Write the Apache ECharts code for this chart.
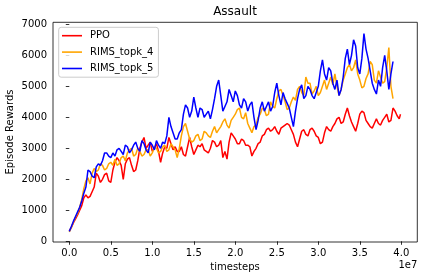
<!DOCTYPE html>
<html><head><meta charset="utf-8">
<script src="https://cdn.jsdelivr.net/npm/echarts@6/dist/echarts.min.js"></script>
<style>html,body{margin:0;padding:0;background:#fff}#c{width:424px;height:280px}</style>
</head><body><div id="c"></div>
<script>
// timesteps in units of 1e7
const timesteps = [0.000,0.025,0.050,0.075,0.100,0.125,0.150,0.175,0.200,0.225,
  0.250,0.275,0.300,0.325,0.350,0.375,0.400,0.425,0.450,0.475,
  0.500,0.525,0.550,0.575,0.600,0.625,0.650,0.675,0.700,0.725,
  0.750,0.775,0.800,0.825,0.850,0.875,0.900,0.925,0.950,0.975,
  1.000,1.025,1.050,1.075,1.100,1.125,1.150,1.175,1.200,1.225,
  1.250,1.275,1.300,1.325,1.350,1.375,1.400,1.425,1.450,1.475,
  1.500,1.525,1.550,1.575,1.600,1.625,1.650,1.675,1.700,1.725,
  1.750,1.775,1.800,1.825,1.850,1.875,1.900,1.925,1.950,1.975,
  2.000,2.025,2.050,2.075,2.100,2.125,2.150,2.175,2.200,2.225,
  2.250,2.275,2.300,2.325,2.350,2.375,2.400,2.425,2.450,2.475,
  2.500,2.525,2.550,2.575,2.600,2.625,2.650,2.675,2.700,2.725,
  2.750,2.775,2.800,2.825,2.850,2.875,2.900,2.925,2.950,2.975,
  3.000,3.025,3.050,3.075,3.100,3.125,3.150,3.175,3.200,3.225,
  3.250,3.275,3.300,3.325,3.350,3.375,3.400,3.425,3.450,3.475,
  3.500,3.525,3.550,3.575,3.600,3.625,3.650,3.675,3.700,3.725,
  3.750,3.775,3.800,3.825,3.850,3.875,3.900,3.925,3.950,3.975,
  3.990];
const ppo = [330,450,600,720,850,1000,1150,1400,1500,1400,
  1450,1600,1750,2200,2100,1900,2000,2150,2200,1950,
  1900,2300,2550,2700,2600,2450,2000,2500,2650,2700,
  2450,2250,2300,2600,3000,3200,3350,3000,3100,3200,
  2900,3000,3150,2900,2550,2850,3050,3000,3350,3150,
  2950,3050,2900,2900,3050,2800,2750,3050,3350,3050,
  2800,2950,3100,3050,3150,2950,2900,2850,3000,3250,
  3200,3050,3100,3250,2700,2900,2650,3200,3500,3400,
  3300,3150,3150,3300,3250,3100,3100,3050,2750,2900,
  3000,3150,3200,3400,3450,3600,3650,3550,3600,3700,
  3550,3450,3650,3700,3750,3800,3750,3600,3450,3200,
  3050,3300,3550,3600,3450,3400,3600,3650,3550,3400,
  3350,3150,3200,3500,3700,3600,3550,3700,3800,3950,
  4000,3800,3850,4100,4300,4050,3850,3700,3550,3800,
  4100,4200,4150,3900,3800,3700,3650,3800,3950,3800,
  3750,3900,4000,4100,3850,3900,4300,4200,4050,3950,
  4100];
const rimsTopk4 = [300,450,620,780,900,1100,1350,1700,1950,2050,
  1850,2200,2350,2250,2300,2500,2450,2300,2350,2500,
  2550,2450,2650,2450,2500,2700,2750,2600,2850,2950,
  3000,2750,2800,3000,2900,2750,2800,2950,2950,2750,
  2850,3050,3000,2850,2900,3050,3100,2900,2950,3150,
  3050,2950,2700,3000,3400,3700,3800,3550,3300,3200,
  3250,3400,3450,3250,3300,3550,3500,3400,3350,3550,
  3700,3500,3600,3700,3850,3950,3750,3650,3900,4000,
  4100,4250,4300,4000,3950,4150,3800,3650,3500,3700,
  3750,4000,4100,4300,4250,4050,4100,4500,4350,4300,
  4600,4850,4900,4700,4500,4250,4300,4500,4650,4550,
  4900,5000,4800,4700,5300,5100,5100,4750,4850,5000,
  4700,4800,5000,5200,4900,5100,5300,5050,5400,5000,
  4700,4900,5200,5400,5600,5700,5500,5600,5850,5400,
  5200,4950,5000,5250,5400,5800,5700,5200,5100,5500,
  5300,5100,5150,5600,6250,5000,4600,null,null,null,
  null];
const rimsTopk5 = [320,480,650,800,950,1100,1300,1550,1750,2300,
  2250,2100,2050,2400,2500,2450,2600,2850,2850,2750,
  2700,2850,2750,2950,3000,2900,2800,3100,3050,2850,
  2950,3100,3200,3000,2900,3250,3150,2950,2850,3200,
  3100,2950,3250,3100,3000,3200,3150,3400,4000,3700,
  3500,3300,3300,3500,3600,4100,4400,4300,4000,4200,
  4650,4300,4000,4300,4250,4000,4100,4200,3950,4250,
  4600,5000,5200,4700,4200,4350,4500,4900,4700,4500,
  4850,4700,4400,4300,4600,4500,4200,4400,4500,4000,
  3600,3900,4300,4500,4200,4350,4500,4200,4350,4800,
  5100,4700,4400,4800,4600,4450,4300,4000,3700,4200,
  4600,4900,5050,4600,4700,5000,4900,4700,4600,4800,
  5000,5500,5850,5400,5200,5600,5500,5100,4900,5200,
  4700,4900,5300,5900,6200,5700,6000,6500,6300,5600,
  5400,5900,6700,6200,5900,5500,5100,4900,4750,5200,
  5000,5600,6000,5500,4900,5400,5800,null,null,null,
  null];
const seriesNames = ['PPO','RIMS_topk_4','RIMS_topk_5'];
const seriesColors = ['#ff0000','#ffa500','#0000ff'];
const xTicks = {min:0, max:4, interval:0.5};
const yTicks = {min:0, max:7000, interval:1000};

const FONT = 'DejaVu Sans';
const pairs = arr => timesteps.map((t,i)=>[t, arr[i]]).filter(p=>p[1]!==null);
const allData = [ppo, rimsTopk4, rimsTopk5];

const chart = echarts.init(document.getElementById('c'), null, {renderer:'canvas'});
chart.setOption({
  animation:false,
  backgroundColor:'#ffffff',
  textStyle:{fontFamily:FONT},
  grid:[
    {left:53, top:22.3, width:364.3, height:219.7, show:true, borderColor:'#000', borderWidth:0.8, backgroundColor:'transparent'},
    {left:69.3, top:24.3, width:332, height:217}
  ],
  xAxis:[
    {gridIndex:0, type:'value', show:false, min:0, max:1},
    {gridIndex:1, type:'value', min:xTicks.min, max:xTicks.max, interval:xTicks.interval, offset:0.7,
     axisLine:{show:false}, splitLine:{show:false},
     axisTick:{show:true, inside:false, length:3.5, lineStyle:{color:'#000', width:0.8}},
     axisLabel:{fontSize:10, color:'#000', fontFamily:FONT, margin:6, formatter:v=>v.toFixed(1)}}
  ],
  yAxis:[
    {gridIndex:0, type:'value', show:false, min:0, max:1},
    {gridIndex:1, type:'value', min:yTicks.min, max:yTicks.max, interval:yTicks.interval, offset:16.3,
     axisLine:{show:false}, splitLine:{show:false},
     axisTick:{show:true, inside:false, length:3.5, lineStyle:{color:'#000', width:0.8}},
     axisLabel:{fontSize:10, color:'#000', fontFamily:FONT, margin:6, formatter:v=>String(v)}}
  ],
  legend:{
    left:58.7, top:27.3, orient:'vertical', icon:'rect', itemWidth:20, itemHeight:1.6, itemGap:4.4,
    padding:[2.4,5,2.7,3.3], borderColor:'#cccccc', borderWidth:1, borderRadius:2.5, backgroundColor:'rgba(255,255,255,0.8)',
    textStyle:{fontSize:10, color:'#000', fontFamily:FONT, lineHeight:12, padding:[0,0,0,3]},
    data:seriesNames
  },
  series: seriesNames.map((n,i)=>({
    name:n, type:'line', xAxisIndex:1, yAxisIndex:1, showSymbol:false, symbol:'none', clip:false,
    data:pairs(allData[i]), lineStyle:{color:seriesColors[i], width:1.5}, itemStyle:{color:seriesColors[i]}
  })),
  graphic:[
    {type:'text', x:235, y:12.3, style:{text:'Assault', font:'12px "DejaVu Sans"', fill:'#000', align:'center', verticalAlign:'middle', textAlign:'center', textVerticalAlign:'middle'}},
    {type:'text', x:235, y:267.5, style:{text:'timesteps', font:'10px "DejaVu Sans"', fill:'#000', align:'center', verticalAlign:'middle', textAlign:'center', textVerticalAlign:'middle'}},
    {type:'text', x:417.3, y:265.5, style:{text:'1e7', font:'10px "DejaVu Sans"', fill:'#000', align:'right', verticalAlign:'middle', textAlign:'right', textVerticalAlign:'middle'}},
    {type:'text', x:10, y:132, rotation:Math.PI/2, style:{text:'Episode Rewards', font:'10px "DejaVu Sans"', fill:'#000', align:'center', verticalAlign:'middle', textAlign:'center', textVerticalAlign:'middle'}}
  ]
});
</script>
</body></html>
